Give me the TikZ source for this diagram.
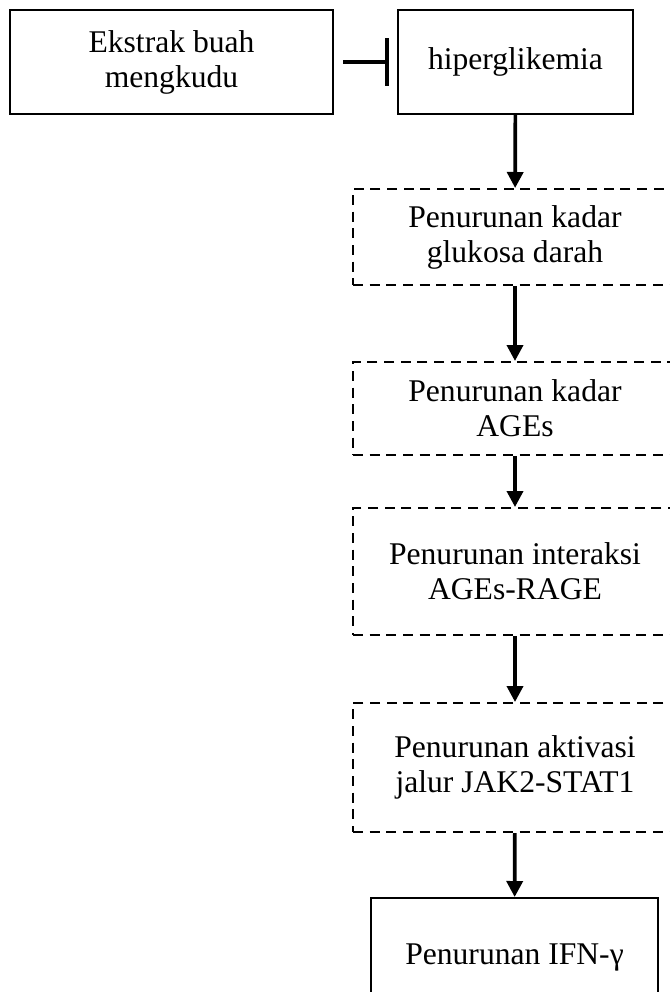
\documentclass[tikz,border=0pt]{standalone}
\usepackage{fontspec}
\setmainfont{Liberation Serif}
\usetikzlibrary{arrows.meta}

\begin{document}
\begin{tikzpicture}[x = 0.75pt, y = -0.75pt, font = \fontsize{23.7}{26.3}\selectfont]
\tikzstyle{solidbox} = [shape = rectangle, draw, line width = 1.5pt, align = center, inner sep = 0pt]
\tikzstyle{dashbox} = [solidbox, dash pattern = on 7.5pt off 5pt]
\tikzstyle{flow} = [line width = 2.75pt, -{Triangle[width = 12pt, length = 12pt]}]
\tikzstyle{inhibit} = [line width = 2.75pt, -{Bar[width = 36pt]}, shorten <= 6.75pt, shorten >= 6pt]
\useasboundingbox (0, 0) rectangle (670, 992);
\clip (0, 0) rectangle (670, 992);
\node[solidbox] (B-0) at (171.5, 62) [minimum width = 242.25pt, minimum height = 78pt] {Ekstrak buah\\mengkudu};
\node[solidbox] (B-1) at (515.5, 62) [minimum width = 176.25pt, minimum height = 78pt] {hiperglikemia};
\node[dashbox] (D-1) at (515, 237) [minimum width = 243pt, minimum height = 72pt] {Penurunan kadar\\glukosa darah};
\node[dashbox] (D-2) at (515, 408.5) [minimum width = 243pt, minimum height = 69.75pt] {Penurunan kadar\\AGEs};
\node[dashbox] (D-3) at (515, 571.5) [minimum width = 243pt, minimum height = 95.25pt] {Penurunan interaksi\\AGEs-RAGE};
\node[dashbox] (D-4) at (515, 767.5) [minimum width = 243pt, minimum height = 96.75pt] {Penurunan aktivasi\\jalur JAK2-STAT1};
\node[solidbox] (B-2) at (514.5, 958) [minimum width = 215.25pt, minimum height = 90pt] {Penurunan IFN-γ};
\draw[inhibit] (B-0) -- (B-1);
\draw[flow] (B-1) -- (D-1);
\draw[flow] (D-1) -- (D-2);
\draw[flow] (D-2) -- (D-3);
\draw[flow] (D-3) -- (D-4);
\draw[flow] (D-4) -- (B-2);
\end{tikzpicture}
\end{document}
